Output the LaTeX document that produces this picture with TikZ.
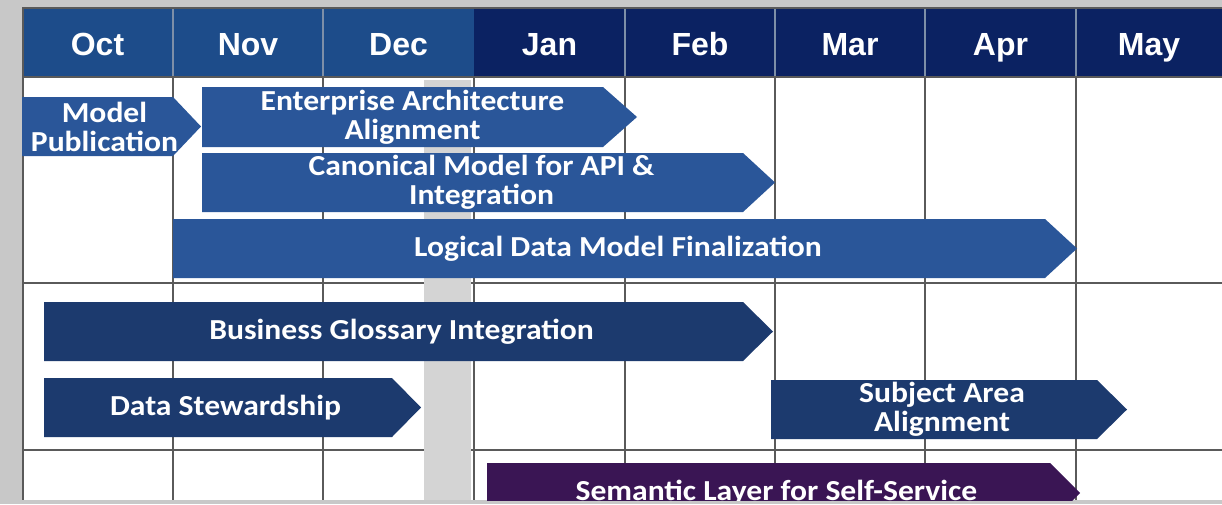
\documentclass[tikz,border=0pt]{standalone}
\usepackage{fontspec}
\setmainfont{Carlito}
\newfontfamily\barfont[FakeStretch=1.09]{Carlito}
\newfontfamily\arialf{Liberation Sans}
\definecolor{bggray}{HTML}{C8C8C8}
\definecolor{hdlight}{HTML}{1D4C8A}
\definecolor{hddark}{HTML}{0B2262}
\definecolor{barmid}{HTML}{2A5699}
\definecolor{bardark}{HTML}{1C3A6E}
\definecolor{barpurple}{HTML}{3A1554}
\definecolor{bandgray}{HTML}{D4D4D4}
\definecolor{gridc}{HTML}{5A5A5A}
\definecolor{hdsepc}{HTML}{7D8FA8}
\tikzset{
  gridline/.style={draw=gridc, line width=1.6pt},
  hdsep/.style={draw=hdsepc, line width=1.4pt},
  hdtext/.style={text=white, font=\arialf\bfseries\fontsize{32}{34}\selectfont, inner sep=0pt, anchor=base},
  bartext/.style={text=white, font=\barfont\bfseries\fontsize{29}{29}\selectfont, align=center, inner sep=0pt},
}
% name, x1, x2, y1, y2, depth, colour, text
\newcommand\chevbar[8]{%
  \fill[#7] (#2,#4) -- ({#3-#6},#4) -- (#3,{(#4+#5)/2}) -- ({#3-#6},#5) -- (#2,#5) -- cycle;
  \node[bartext] (#1) at ({(#2+#3)/2-7},{(#4+#5)/2}) {#8};
}
\begin{document}
\begin{tikzpicture}[x=1pt,y=-1pt]
\useasboundingbox (0,0) rectangle (1222,504);
\fill[bggray] (0,0) rectangle (1222,504);
\begin{scope}
\clip (22,7) rectangle (1222,500);
\fill[white] (22,7) rectangle (1222,500);
% header
\fill[hdlight] (22,7) rectangle (474,77);
\fill[hddark] (474,7) rectangle (1222,77);
% grid
\foreach \x in {173,323,474,625,775,925,1076} \draw[gridline] (\x,77) -- (\x,500);
\foreach \x in {173,323,625,775,925,1076} \draw[hdsep] (\x,7) -- (\x,77);
\foreach \y in {77,283,450} \draw[gridline] (22,\y) -- (1222,\y);
\draw[gridline] (22.8,7) -- (22.8,500);
\draw[gridline] (22,7.8) -- (1222,7.8);
% gray band
\fill[bandgray] (424,80) rectangle (471,500);
% header labels
\node[hdtext] (oct) at (97.5,55) {Oct};
\node[hdtext] (nov) at (248,55) {Nov};
\node[hdtext] (dec) at (398.5,55) {Dec};
\node[hdtext] (jan) at (549.5,55) {Jan};
\node[hdtext] (feb) at (700,55) {Feb};
\node[hdtext] (mar) at (850,55) {Mar};
\node[hdtext] (apr) at (1000.5,55) {Apr};
\node[hdtext] (may) at (1149,55) {May};
% bars
\chevbar{modelpub}{22}{201}{97}{156}{28}{barmid}{Model\\Publication}
\chevbar{entarch}{202}{637}{87}{147}{34}{barmid}{Enterprise Architecture\\Alignment}
\chevbar{canon}{202}{775}{153}{212}{32}{barmid}{Canonical Model for API \&\\Integration}
\chevbar{logical}{173}{1077}{219}{278}{32}{barmid}{Logical Data Model Finalization}
\chevbar{glossary}{44}{773}{302}{361}{30}{bardark}{Business Glossary Integration}
\chevbar{steward}{44}{421}{378}{437}{29}{bardark}{Data Stewardship}
\chevbar{subject}{771}{1127}{380}{439}{30}{bardark}{Subject Area\\Alignment}
\chevbar{semantic}{487}{1080}{463}{523}{30}{barpurple}{Semantic Layer for Self-Service}
\end{scope}
\end{tikzpicture}
\end{document}
